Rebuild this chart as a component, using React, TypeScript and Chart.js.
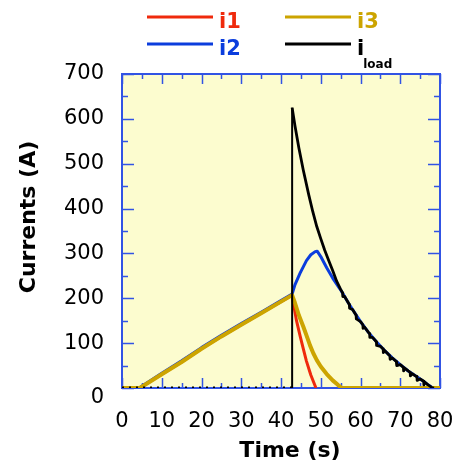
import { useEffect, useRef } from "react";
import { Chart, registerables } from "chart.js";

Chart.register(...registerables);

// Time (s) and current (A) samples for each branch
const tI1 = [0, 4.5, 10, 15, 20, 25, 30, 35, 40, 42.8, 43.2, 43.9, 44.8, 45.6, 46.4, 47.5, 48.8];
const i1 = [0, 0, 30.5, 58, 87.5, 115, 141, 166.5, 192.5, 207, 185, 150, 116, 88, 60, 29, 0];

const tI2 = [0, 4.3, 10, 15, 20, 25, 30, 35, 40, 42.8, 43.5, 44.8, 46.4, 47.5, 48.6, 49.1, 50, 51.5, 53, 54.9, 56, 57, 58, 60, 62, 64, 66, 68, 70, 72, 74, 76, 77, 78, 78.8, 80];
const i2 = [0, 0, 33, 60.5, 90, 117.5, 143.5, 169, 195, 209.5, 230, 256, 284, 297, 304, 305, 293, 268, 245, 220, 204, 189, 175, 148, 124, 103, 84, 67, 52, 38, 26, 14, 7, 1, 0, 0];

const tI3 = [0, 4.5, 10, 15, 20, 25, 30, 35, 40, 42.8, 43.5, 44.5, 45.6, 46.5, 47.3, 48.1, 49, 50, 51.5, 53, 54.3, 55.3, 80];
const i3 = [0, 0, 30.5, 58, 87.5, 115, 141, 166.5, 192.5, 207, 190, 162, 137, 115, 95, 78, 62, 48, 31, 17, 7, 0, 0];

const tLoad = [
  0, 42.8, 42.8, 43.5, 44.5, 45.6, 47, 48, 49, 50, 51, 52, 53, 54, 55,
  55.5, 55.55, 56, 57, 57.2, 57.25, 58, 58.9, 58.95, 60, 60.6, 60.65, 61, 62, 62.3, 62.35,
  63, 64, 64.05, 65, 65.7, 65.75, 66, 67, 67.4, 67.45, 68, 69, 69.1, 69.15, 70, 70.8, 70.85,
  71, 72, 72.5, 72.55, 73, 74, 74.2, 74.25, 75, 75.9, 75.95, 76, 77, 78, 78.5,
];
const iLoad = [
  0, 0, 625, 585, 535, 486, 430, 393, 360, 333, 307, 284, 262, 238, 220,
  212, 204, 204, 189, 186, 178, 175, 162, 154, 148, 141, 133, 136, 124, 121, 113,
  113, 103, 95, 93, 87, 79, 84, 75, 72, 64, 67, 59, 58, 50, 52, 46, 38,
  45, 38, 35, 27, 32, 26, 25, 17, 20, 15, 7, 14, 7, 1, 0,
];

const xMin = 0;
const xMax = 80;
const xStep = 10;
const yMin = 0;
const yMax = 700;
const yStep = 100;

const xTitle = "Time (s)";
const yTitle = "Currents (A)";

const RED = "#ef2a0c";
const BLUE = "#0b3ddd";
const GOLD = "#cca400";
const BLACK = "#000000";
const FRAME = "#3153e4";
const PLOT_BG = "#fcfccf";

const pts = (t: number[], v: number[]) => t.map((x, k) => ({ x, y: v[k] }));

const framePlugin = {
  id: "frame",
  beforeDraw(chart: any) {
    const { ctx, chartArea: a } = chart;
    ctx.save();
    ctx.fillStyle = "#ffffff";
    ctx.fillRect(0, 0, chart.width, chart.height);
    ctx.fillStyle = PLOT_BG;
    ctx.fillRect(a.left, a.top, a.right - a.left, a.bottom - a.top);
    ctx.restore();
  },
  beforeDatasetsDraw(chart: any) {
    const { ctx, chartArea: a, scales } = chart;
    const xs = scales.x;
    const ys = scales.y;
    ctx.save();
    ctx.strokeStyle = FRAME;
    ctx.lineWidth = 1.5;
    ctx.beginPath();
    for (let v = xMin; v <= xMax; v += xStep / 2) {
      const px = Math.round(xs.getPixelForValue(v)) + 0.5;
      const len = v % xStep === 0 ? 10 : 5;
      ctx.moveTo(px, a.bottom);
      ctx.lineTo(px, a.bottom - len);
      ctx.moveTo(px, a.top);
      ctx.lineTo(px, a.top + len);
    }
    for (let v = yMin; v <= yMax; v += yStep / 2) {
      const py = Math.round(ys.getPixelForValue(v)) + 0.5;
      const len = v % yStep === 0 ? 12 : 6;
      ctx.moveTo(a.left, py);
      ctx.lineTo(a.left + len, py);
      ctx.moveTo(a.right, py);
      ctx.lineTo(a.right - len, py);
    }
    ctx.stroke();
    ctx.lineWidth = 2;
    ctx.strokeRect(a.left, a.top, a.right - a.left, a.bottom - a.top);
    ctx.restore();
  },
  afterDraw(chart: any) {
    const { ctx } = chart;
    ctx.save();
    ctx.fillStyle = "#000";
    ctx.font = "bold 22px 'DejaVu Sans'";
    ctx.textAlign = "center";
    ctx.textBaseline = "alphabetic";
    ctx.fillText(xTitle, 290, 457);
    ctx.translate(35, 217);
    ctx.rotate(-Math.PI / 2);
    ctx.fillText(yTitle, 0, 0);
    ctx.restore();

    // legend: two rows, two columns
    const entry = (x0: number, y: number, color: string, label: string, sub?: string) => {
      ctx.save();
      ctx.strokeStyle = color;
      ctx.lineWidth = 3;
      ctx.beginPath();
      ctx.moveTo(x0, y);
      ctx.lineTo(x0 + 66, y);
      ctx.stroke();
      ctx.fillStyle = color;
      ctx.font = "bold 21px 'DejaVu Sans'";
      ctx.textAlign = "left";
      ctx.textBaseline = "alphabetic";
      ctx.fillText(label, x0 + 72, y + 11);
      if (sub) {
        const w = ctx.measureText(label).width;
        ctx.font = "bold 12px 'DejaVu Sans'";
        ctx.fillText(sub, x0 + 72 + w - 1, y + 24);
      }
      ctx.restore();
    };
    entry(147, 17, RED, "i1");
    entry(285, 17, GOLD, "i3");
    entry(147, 44, BLUE, "i2");
    entry(285, 44, BLACK, "i", "load");
  },
};

export default function App() {
  const ref = useRef<HTMLCanvasElement | null>(null);

  useEffect(() => {
    if (!ref.current) return;
    const chart = new Chart(ref.current, {
      type: "line",
      data: {
        datasets: [
          {
            label: "iload",
            data: pts(tLoad, iLoad),
            borderColor: BLACK,
            borderWidth: 2.8,
            pointRadius: 0,
            order: 0,
            segment: {
              borderDash: (c: any) =>
                c.p0.parsed.y === 0 && c.p1.parsed.y === 0 ? [2, 5] : undefined,
              borderWidth: (c: any) => (c.p0.parsed.x === c.p1.parsed.x && c.p0.parsed.y === 0 ? 2 : undefined),
            },
          },
          {
            label: "i3",
            data: pts(tI3, i3),
            borderColor: GOLD,
            borderWidth: 4,
            pointRadius: 0,
            order: 1,
          },
          {
            label: "i1",
            data: pts(tI1, i1),
            borderColor: RED,
            borderWidth: 3,
            pointRadius: 0,
            order: 2,
          },
          {
            label: "i2",
            data: pts(tI2, i2),
            borderColor: BLUE,
            borderWidth: 3,
            pointRadius: 0,
            order: 3,
          },
        ],
      },
      options: {
        animation: false,
        responsive: false,
        devicePixelRatio: 1,
        parsing: false,
        layout: { padding: { left: 0, top: 74, right: 14, bottom: 0 } },
        plugins: { legend: { display: false }, tooltip: { enabled: false } },
        elements: { line: { tension: 0, borderJoinStyle: "round", borderCapStyle: "butt" } },
        scales: {
          x: {
            type: "linear",
            min: xMin,
            max: xMax,
            grid: { display: false, drawTicks: false },
            border: { display: false },
            ticks: {
              stepSize: xStep,
              padding: 21,
              color: "#000",
              font: { family: "'DejaVu Sans'", size: 21 },
              maxRotation: 0,
            },
            afterFit: (s: any) => {
              s.height = 77;
              s.paddingLeft = 0;
              s.paddingRight = 0;
            },
          },
          y: {
            type: "linear",
            min: yMin,
            max: yMax,
            grid: { display: false, drawTicks: false },
            border: { display: false },
            ticks: {
              stepSize: yStep,
              padding: 18,
              color: "#000",
              font: { family: "'DejaVu Sans'", size: 21, lineHeight: 0.9 },
              callback: (v: any) => (Number(v) === 0 ? ["", "0"] : String(v)),
            },
            afterFit: (s: any) => {
              s.width = 122;
              s.paddingTop = 0;
              s.paddingBottom = 0;
            },
          },
        },
      } as any,
      plugins: [framePlugin],
    });
    return () => chart.destroy();
  }, []);

  return (
    <div style={{ position: "fixed", left: 0, top: 0, width: 454, height: 465 }}>
      <canvas ref={ref} width={454} height={465} style={{ display: "block" }} />
    </div>
  );
}
